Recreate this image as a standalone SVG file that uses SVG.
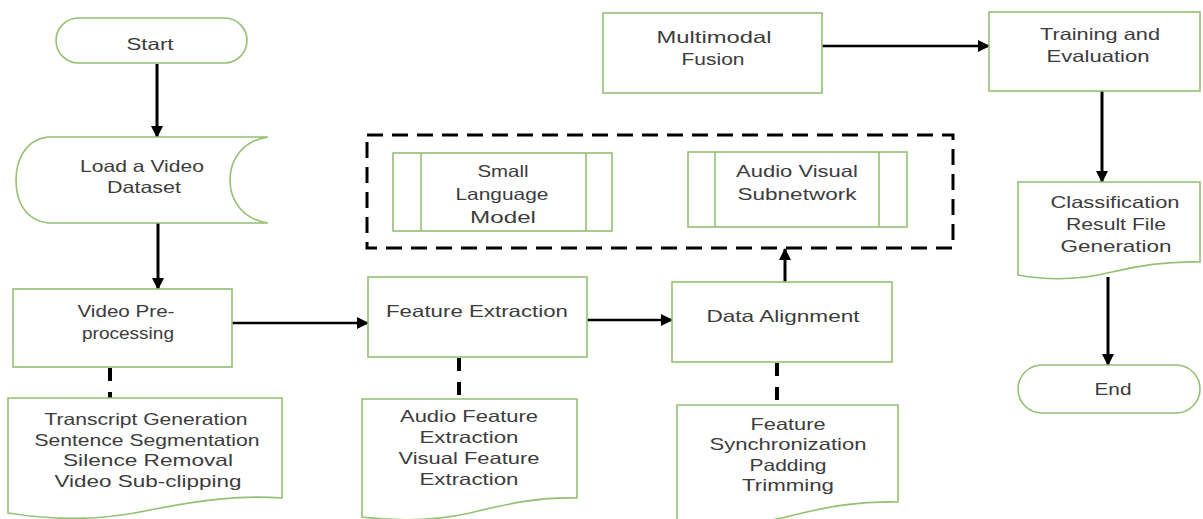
<svg xmlns="http://www.w3.org/2000/svg" width="1203" height="519" viewBox="0 0 1203 519">
<style>
.box{fill:#ffffff;stroke:#93c072;stroke-width:1.6}
.t{font-family:"Liberation Sans",Arial,sans-serif;font-size:16.5px;fill:#3c3c3c;text-anchor:middle}
.arr{stroke:#000;stroke-width:3;fill:none;marker-end:url(#ah)}
.arrh{stroke:#000;stroke-width:2.5;fill:none;marker-end:url(#ah)}
.dl{stroke:#000;stroke-width:4;fill:none;stroke-dasharray:13 11}
.grp{fill:none;stroke:#000;stroke-width:3;stroke-dasharray:16 9}
</style>
<defs>
<marker id="ah" markerUnits="userSpaceOnUse" markerWidth="12" markerHeight="12" refX="11" refY="6" orient="auto">
<path d="M0,0 L12,6 L0,12 z" fill="#000"/>
</marker>
</defs>
<rect width="1203" height="519" fill="#ffffff"/>

<g id="connectors">
<line class="arr" x1="157" y1="64" x2="157" y2="137"/>
<line class="arr" x1="158" y1="223" x2="158" y2="289"/>
<line class="arrh" x1="232" y1="323" x2="368" y2="323"/>
<line class="arrh" x1="587" y1="320" x2="672" y2="320"/>
<line class="arr" x1="785" y1="282" x2="785" y2="249"/>
<line class="arrh" x1="822" y1="46" x2="989" y2="46"/>
<line class="arr" x1="1102" y1="91" x2="1102" y2="182"/>
<line class="arr" x1="1108" y1="277" x2="1108" y2="365"/>
<line class="dl" x1="110" y1="368" x2="110" y2="398"/>
<line class="dl" x1="459" y1="358" x2="459" y2="399"/>
<line class="dl" x1="777" y1="363" x2="777" y2="405"/>
</g>

<g id="group-box">
<rect class="grp" x="367" y="135" width="586" height="113"/>
</g>

<g id="start">
<rect class="box" x="56" y="18" width="191" height="45" rx="22.5"/>
<text class="t" x="150" y="50" textLength="47" lengthAdjust="spacingAndGlyphs">Start</text>
</g>

<g id="load">
<path class="box" d="M268,137 H48 C24,140 16,162 16,180 C16,200 24,220 48,223 H268 C242,219 230,200 230,180 C230,160 242,141 268,137 Z"/>
<text class="t" x="142" y="172" textLength="124" lengthAdjust="spacingAndGlyphs">Load a Video</text>
<text class="t" x="144" y="193" textLength="74" lengthAdjust="spacingAndGlyphs">Dataset</text>
</g>

<g id="preprocess">
<rect class="box" x="13" y="289" width="219" height="78"/>
<text class="t" x="126" y="317" textLength="97" lengthAdjust="spacingAndGlyphs">Video Pre-</text>
<text class="t" x="128" y="339" textLength="92" lengthAdjust="spacingAndGlyphs">processing</text>
</g>

<g id="preprocess-doc">
<path class="box" d="M8,398 H282 V498 C240,495 200,500 150,510 C100,521 50,520 8,513 Z"/>
<text class="t" x="146" y="425" textLength="203" lengthAdjust="spacingAndGlyphs">Transcript Generation</text>
<text class="t" x="147" y="446" textLength="225" lengthAdjust="spacingAndGlyphs">Sentence Segmentation</text>
<text class="t" x="148" y="466" textLength="170" lengthAdjust="spacingAndGlyphs">Silence Removal</text>
<text class="t" x="148" y="487" textLength="187" lengthAdjust="spacingAndGlyphs">Video Sub-clipping</text>
</g>

<g id="feature">
<rect class="box" x="368" y="277" width="219" height="80"/>
<text class="t" x="477" y="317" textLength="182" lengthAdjust="spacingAndGlyphs">Feature Extraction</text>
</g>

<g id="feature-doc">
<path class="box" d="M362,399 H577 V498 C540,497 510,503 470,513 C430,522 395,521 362,517 Z"/>
<text class="t" x="469" y="422" textLength="138" lengthAdjust="spacingAndGlyphs">Audio Feature</text>
<text class="t" x="469" y="443" textLength="99" lengthAdjust="spacingAndGlyphs">Extraction</text>
<text class="t" x="469" y="464" textLength="141" lengthAdjust="spacingAndGlyphs">Visual Feature</text>
<text class="t" x="469" y="485" textLength="99" lengthAdjust="spacingAndGlyphs">Extraction</text>
</g>

<g id="align">
<rect class="box" x="672" y="282" width="220" height="80"/>
<text class="t" x="783" y="322" textLength="153" lengthAdjust="spacingAndGlyphs">Data Alignment</text>
</g>

<g id="align-doc">
<path class="box" d="M677,405 H898 V502 C860,501 830,506 790,516 C750,526 710,526 677,522 Z"/>
<text class="t" x="788" y="430" textLength="75" lengthAdjust="spacingAndGlyphs">Feature</text>
<text class="t" x="788" y="450" textLength="157" lengthAdjust="spacingAndGlyphs">Synchronization</text>
<text class="t" x="788" y="471" textLength="77" lengthAdjust="spacingAndGlyphs">Padding</text>
<text class="t" x="788" y="491" textLength="92" lengthAdjust="spacingAndGlyphs">Trimming</text>
</g>

<g id="slm">
<rect class="box" x="393" y="153" width="219" height="78"/>
<line class="box" x1="421" y1="153" x2="421" y2="231"/>
<line class="box" x1="586" y1="153" x2="586" y2="231"/>
<text class="t" x="503" y="177" textLength="51" lengthAdjust="spacingAndGlyphs">Small</text>
<text class="t" x="502" y="200" textLength="93" lengthAdjust="spacingAndGlyphs">Language</text>
<text class="t" x="503" y="223" textLength="66" lengthAdjust="spacingAndGlyphs">Model</text>
</g>

<g id="avs">
<rect class="box" x="688" y="152" width="219" height="75"/>
<line class="box" x1="715" y1="152" x2="715" y2="227"/>
<line class="box" x1="879" y1="152" x2="879" y2="227"/>
<text class="t" x="797" y="177" textLength="122" lengthAdjust="spacingAndGlyphs">Audio Visual</text>
<text class="t" x="797" y="200" textLength="119" lengthAdjust="spacingAndGlyphs">Subnetwork</text>
</g>

<g id="fusion">
<rect class="box" x="603" y="13" width="219" height="80"/>
<text class="t" x="714" y="43" textLength="115" lengthAdjust="spacingAndGlyphs">Multimodal</text>
<text class="t" x="713" y="65" textLength="63" lengthAdjust="spacingAndGlyphs">Fusion</text>
</g>

<g id="training">
<rect class="box" x="989" y="12" width="211" height="79"/>
<text class="t" x="1100" y="40" textLength="120" lengthAdjust="spacingAndGlyphs">Training and</text>
<text class="t" x="1098" y="62" textLength="103" lengthAdjust="spacingAndGlyphs">Evaluation</text>
</g>

<g id="classification">
<path class="box" d="M1018,182 H1200 V262 C1170,261 1145,264 1112,272 C1080,280 1050,281 1018,275 Z"/>
<text class="t" x="1115" y="208" textLength="129" lengthAdjust="spacingAndGlyphs">Classification</text>
<text class="t" x="1116" y="230" textLength="100" lengthAdjust="spacingAndGlyphs">Result File</text>
<text class="t" x="1116" y="252" textLength="111" lengthAdjust="spacingAndGlyphs">Generation</text>
</g>

<g id="end">
<rect class="box" x="1018" y="365" width="182" height="48" rx="24"/>
<text class="t" x="1113" y="395" textLength="37" lengthAdjust="spacingAndGlyphs">End</text>
</g>
</svg>
